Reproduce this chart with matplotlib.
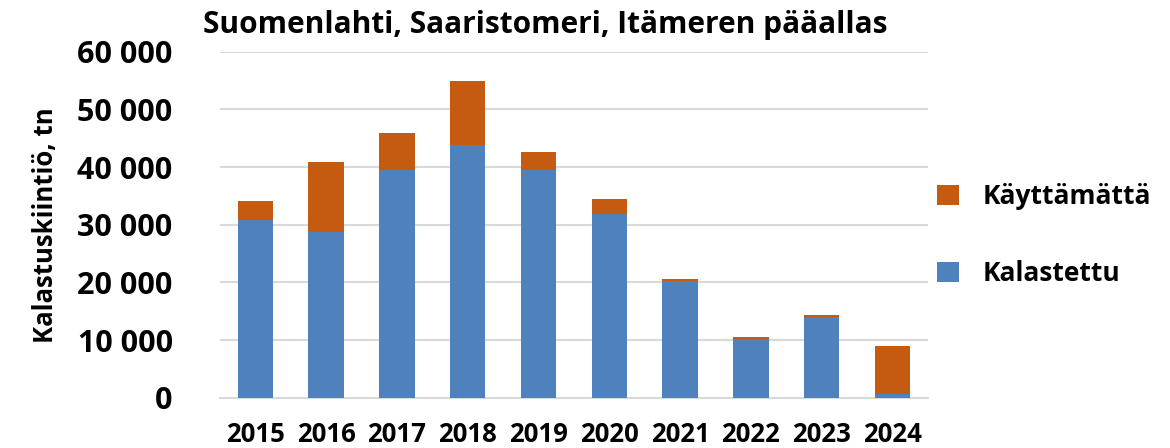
import numpy as np
import matplotlib
matplotlib.use("Agg")
import matplotlib.pyplot as plt

# data
years = ["2015", "2016", "2017", "2018", "2019", "2020", "2021", "2022", "2023", "2024"]
kalastettu = [30900, 28700, 39500, 43900, 39400, 31900, 20200, 10100, 14000, 650]
kayttamatta = [3200, 12100, 6450, 11100, 3150, 2500, 400, 500, 400, 8250]

blue = "#4F81BD"
orange = "#C55A11"

plt.rcParams["font.family"] = ["Open Sans", "DejaVu Sans"]

fig = plt.figure(figsize=(11.7, 4.48), dpi=100)
ax = fig.add_axes([0.188, 0.1123, 0.605, 0.7723])

x = np.arange(len(years))
b1 = ax.bar(x, kalastettu, width=0.5, color=blue, label="Kalastettu", zorder=3)
b2 = ax.bar(x, kayttamatta, width=0.5, bottom=kalastettu, color=orange,
            label="Käyttämättä", zorder=3)

ax.set_xlim(-0.5, len(years) - 0.5)
ax.set_ylim(0, 60000)
ax.set_yticks(range(0, 60001, 10000))
ax.set_yticklabels([f"{v:,}".replace(",", " ") for v in range(0, 60001, 10000)],
                   fontsize=22, fontweight="bold")
ax.set_xticks(x)
ax.set_xticklabels(years, fontsize=18.5, fontweight="bold")
ax.tick_params(axis="y", length=0, pad=34)
ax.tick_params(axis="x", length=0, pad=17)

ax.grid(axis="y", color="#D9D9D9", linewidth=1.5, zorder=0)
for s in ["top", "right", "left"]:
    ax.spines[s].set_visible(False)
ax.spines["bottom"].set_color("#D9D9D9")
ax.spines["bottom"].set_linewidth(1.5)

ax.set_ylabel("Kalastuskiintiö, tn", fontsize=18.5, fontweight="bold", labelpad=13)
fig.text(0.466, 0.945, "Suomenlahti, Saaristomeri, Itämeren pääallas",
         fontsize=21.5, fontweight="bold", ha="center", va="center")

ax.legend(handles=[b2, b1], loc="center left", bbox_to_anchor=(0.98, 0.47),
          frameon=False, prop={"weight": "bold", "size": 19},
          handlelength=0.8, handleheight=0.8, labelspacing=1.9, handletextpad=0.9)

fig.savefig("out.png", dpi=100)
